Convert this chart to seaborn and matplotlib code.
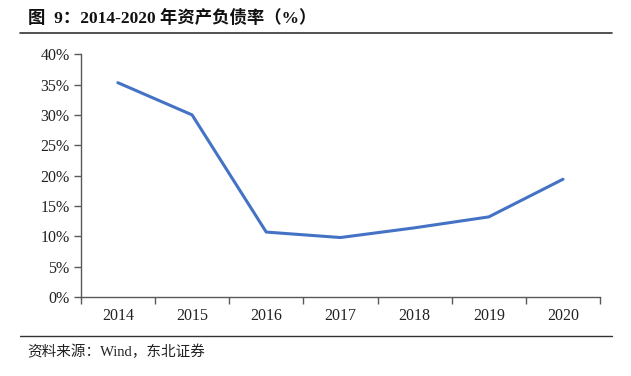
import matplotlib
matplotlib.use('Agg')
import matplotlib.pyplot as plt
import seaborn as sns
import pandas as pd
from matplotlib.ticker import FixedLocator, FuncFormatter
from matplotlib.lines import Line2D

# 数据
years = ['2014', '2015', '2016', '2017', '2018', '2019', '2020']
debt_ratio = [35.3, 30.0, 10.7, 9.8, 11.4, 13.2, 19.4]
y_ticks = [0, 5, 10, 15, 20, 25, 30, 35, 40]

sns.set_style('white')
plt.rcParams['font.family'] = ['Liberation Serif', 'Noto Sans CJK SC', 'DejaVu Sans']
plt.rcParams['axes.unicode_minus'] = False

df = pd.DataFrame({'year': years, 'ratio': debt_ratio})

fig = plt.figure(figsize=(6.31, 3.76), dpi=100)
ax = fig.add_axes([0.128, 0.210, 0.823, 0.646])

sns.lineplot(data=df, x='year', y='ratio', ax=ax, color='#4472C4', linewidth=2.2)

ax.set_xlim(-0.5, len(years) - 0.5)
ax.set_ylim(0, 40)
ax.set_yticks(y_ticks)
ax.yaxis.set_major_formatter(FuncFormatter(lambda v, p: f'{v:.0f}%'))
ax.set_xlabel('')
ax.set_ylabel('')

# 分类之间的刻度线
ax.xaxis.set_minor_locator(FixedLocator([i - 0.5 for i in range(len(years) + 1)]))
ax.tick_params(axis='x', which='major', length=0, labelsize=11.5, pad=8, colors='#222222')
ax.tick_params(axis='x', which='minor', length=5, width=1, color='#595959', direction='out')
ax.tick_params(axis='y', length=5, width=1, color='#595959', labelsize=11.5, pad=3,
               labelcolor='#222222', direction='out')
ax.xaxis.set_ticks_position('bottom')
ax.yaxis.set_ticks_position('left')

for s in ['top', 'right']:
    ax.spines[s].set_visible(False)
for s in ['left', 'bottom']:
    ax.spines[s].set_color('#595959')
    ax.spines[s].set_linewidth(1)

# 标题和来源
fig.text(0.044, 0.952, '图  9：2014-2020 年资产负债率（%）', fontsize=12.5, fontweight='bold',
         ha='left', va='center', color='#111111')
fig.add_artist(Line2D([0.032, 0.97], [0.912, 0.912], color='#333333', linewidth=1.2,
                      transform=fig.transFigure))
fig.add_artist(Line2D([0.032, 0.97], [0.106, 0.106], color='#333333', linewidth=1.0,
                      transform=fig.transFigure))
fig.text(0.044, 0.063, '资料来源：Wind，东北证券', fontsize=10.5, ha='left', va='center',
         color='#222222')

plt.savefig('out.png', dpi=100)
